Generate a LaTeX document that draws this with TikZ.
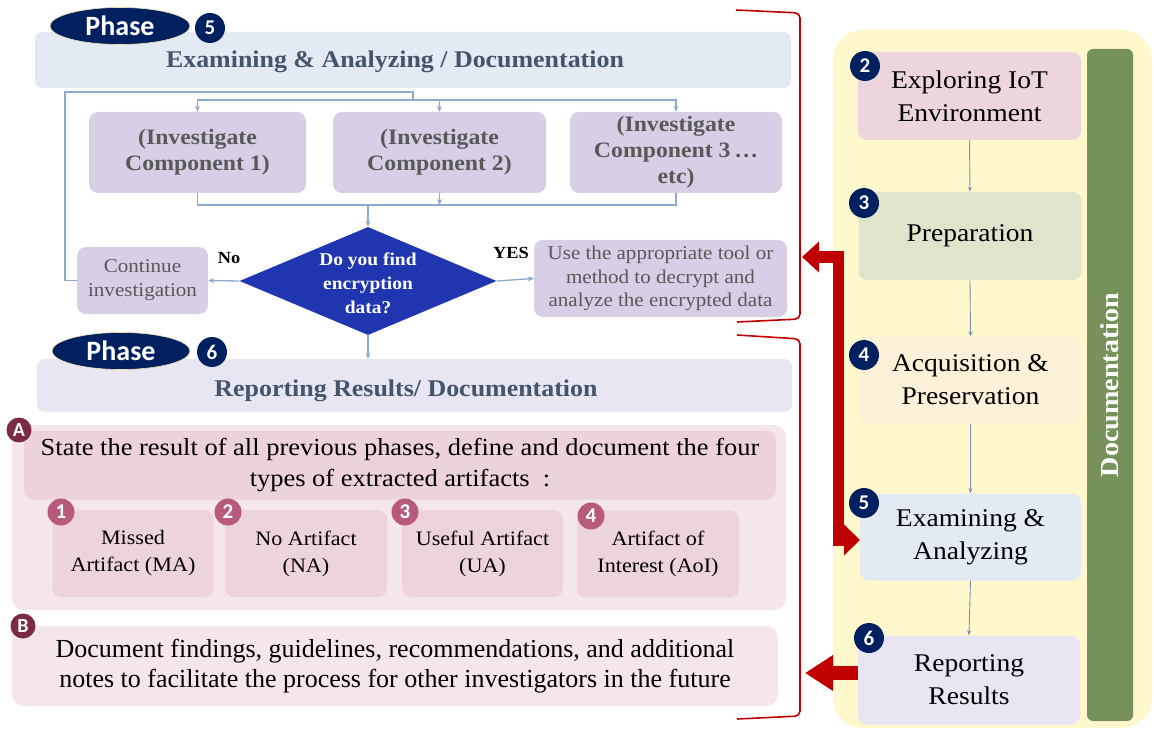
\documentclass[tikz,border=0pt]{standalone}
\usepackage{fontspec}
\setmainfont{Liberation Serif}[FakeStretch=1.08]
\newfontfamily\plainserif{Liberation Serif}
\newfontfamily\calib{Carlito}
\usetikzlibrary{shapes.geometric,arrows.meta}
\definecolor{navy}{HTML}{002060}
\definecolor{hdrA}{HTML}{E4EAF3}
\definecolor{hdrB}{HTML}{E8E6F2}
\definecolor{slate}{HTML}{44546A}
\definecolor{lav}{HTML}{D8CEE5}
\definecolor{greytxt}{HTML}{595959}
\definecolor{conn}{HTML}{8EA9CF}
\definecolor{decblue}{HTML}{1F36B0}
\definecolor{redc}{HTML}{C00000}
\definecolor{yel}{HTML}{FFF8CC}
\definecolor{grn}{HTML}{76925A}
\definecolor{pinkout}{HTML}{F5E6EA}
\definecolor{pinkin}{HTML}{ECD2D9}
\definecolor{pinkbox}{HTML}{EDD3DA}
\definecolor{maroon}{HTML}{7C2B47}
\definecolor{rose}{HTML}{B85A7C}
\definecolor{rbA}{HTML}{EDD5DE}
\definecolor{rbB}{HTML}{DFE4CB}
\definecolor{rbC}{HTML}{FAF1D8}
\definecolor{rbD}{HTML}{E4EAF3}
\definecolor{rbE}{HTML}{E8E6F2}
\newcommand{\fsz}[2]{\fontsize{#1}{#2}\selectfont}
\begin{document}
\begin{tikzpicture}[x=1pt,y=-1pt,
  box/.style={rounded corners=9pt, inner sep=0pt, align=center},
  hdr/.style={box, rounded corners=8pt},
  comp/.style={box, fill=lav, text=greytxt, font=\bfseries\fsz{22}{26}},
  pill/.style={ellipse, fill=navy, draw=yellow!40!brown!40, line width=0.6pt, text=white, font=\calib\bfseries\fsz{28}{30}, inner sep=0pt},
  numc/.style={circle, fill=navy, text=white, font=\calib\bfseries\fsz{21}{22}, minimum size=30pt, inner sep=0pt},
  letc/.style={circle, fill=maroon, text=white, font=\calib\bfseries\fsz{20}{22}, minimum size=25pt, inner sep=0pt},
  rosec/.style={circle, fill=rose, text=white, font=\calib\bfseries\fsz{21}{22}, minimum size=27pt, inner sep=0pt},
  art/.style={box, fill=pinkbox, font=\fsz{20.5}{27}, minimum width=161pt, minimum height=87pt},
  rbox/.style={box, font=\fsz{25.5}{33}, minimum width=223pt, minimum height=88pt},
  cline/.style={draw=conn, line width=1.3pt},
  carrow/.style={cline, -{Stealth[length=6pt,width=5pt]}},
  rarrow/.style={draw=conn!85!black, line width=0.9pt, -{Stealth[length=5pt,width=4pt]}},
  brk/.style={draw=redc, line width=1.6pt, rounded corners=5pt},
  big/.style={draw=redc, line width=11pt}
]
\useasboundingbox (0,0) rectangle (1154,730);

% ---------- right panel ----------
\node[box, fill=yel, rounded corners=30pt, minimum width=319pt, minimum height=698pt] (panel) at (992.5,379) {};
\node[box, fill=grn, rounded corners=6pt, minimum width=46pt, minimum height=672pt] (docbar) at (1110,385) {};
\node[text=white, font=\bfseries\fsz{26}{28}, rotate=90] (doctxt) at (1110,385) {Documentation};

\node[rbox, fill=rbA] (r2) at (969.5,96) {Exploring IoT\\Environment};
\node[rbox, fill=rbB] (r3) at (970,236) {Preparation};
\node[rbox, fill=rbC, minimum width=221pt, minimum height=87pt] (r4) at (970.5,380) {Acquisition \&\\Preservation};
\node[rbox, fill=rbD, minimum width=221pt, minimum height=87pt] (r5) at (970.5,537) {Examining \&\\Analyzing};
\node[rbox, fill=rbE, minimum width=222pt, minimum height=89pt] (r6) at (969,680) {Reporting\\Results};
\node[numc] (n2) at (865,66) {2};
\node[numc] (n3) at (864,203) {3};
\node[numc] (n4) at (864,355) {4};
\node[numc] (n5) at (864,503) {5};
\node[numc] (n6) at (869,638) {6};
\draw[rarrow] (r2.south) -- (r3.north);
\draw[rarrow] (r3.south) -- (r4.north);
\draw[rarrow] (r4.south) -- (r5.north);
\draw[rarrow] (r5.south) -- (r6.north);

% ---------- phase 5 ----------
\node[hdr, fill=hdrA, minimum width=756pt, minimum height=56pt] (h5) at (413,60) {};
\node[text=slate, font=\bfseries\fsz{24}{26}] (t5) at (395,62) {Examining \& Analyzing / Documentation};
\node[pill, minimum width=140pt, minimum height=37pt] (p5) at (120,26) {Phase};
\node[numc] (pn5) at (210,28) {5};

\node[comp, minimum width=217pt, minimum height=81pt] (c1) at (197.5,152.5) {(Investigate\\Component 1)};
\node[comp, minimum width=213pt, minimum height=81pt] (c2) at (439.5,152.5) {(Investigate\\Component 2)};
\node[comp, minimum width=212pt, minimum height=81pt] (c3) at (676,152.5) {(Investigate\\Component 3\,\ldots\\etc)};

\node[diamond, fill=decblue, minimum width=257pt, minimum height=108pt, inner sep=0pt] (dec) at (368,281) {};
\node[text=white, align=center, font=\bfseries\fsz{18}{24}] (dectxt) at (368,283) {Do you find\\encryption\\data?};
\node[box, fill=lav, text=greytxt, font=\fsz{19.5}{24}, minimum width=131pt, minimum height=67pt] (cont) at (142.5,280.5) {Continue\\investigation};
\node[box, fill=lav, text=greytxt, font=\fsz{19.5}{23.5}, minimum width=253pt, minimum height=77pt] (use) at (660.5,278.5) {Use the appropriate tool or\\method to decrypt and\\analyze the encrypted data};
\node[font=\bfseries\fsz{17}{18}] (nolab) at (229,258) {No};
\node[font=\bfseries\fsz{17}{18}] (yeslab) at (511,253) {YES};

% connectors phase 5
\coordinate (jt) at (413,100);
\coordinate (lp) at (65,92);
\coordinate (jb) at (368,205);
\draw[cline] (cont.west) -| (lp) -| (jt);
\draw[carrow] (jt) -| (c1.north);
\draw[carrow] (jt) -| (c3.north);
\draw[carrow] (jt -| c2.north) -- (c2.north);
\draw[cline] (c1.south) |- (jb) -| (c3.south);
\draw[carrow] (c2.south) -- (c2.south |- jb);
\draw[carrow] (jb) -- (dec.north);
\draw[carrow] (dec.west) -- (cont.east);
\draw[carrow] (dec.east) -- (use.west);

% ---------- phase 6 ----------
\node[hdr, fill=hdrB, minimum width=755pt, minimum height=53pt] (h6) at (414.5,385.5) {};
\node[text=slate, font=\bfseries\fsz{24}{26}] (t6) at (406,391) {Reporting Results/ Documentation};
\node[pill, minimum width=138pt, minimum height=37pt] (p6) at (121,351) {Phase};
\node[numc] (pn6) at (212,352) {6};
\draw[carrow] (dec.south) -- (h6.north -| dec.south);

\node[box, fill=pinkout, rounded corners=12pt, minimum width=774pt, minimum height=185pt] (secA) at (399,517.5) {};
\node[box, fill=pinkin, minimum width=752pt, minimum height=69pt, font=\fsz{24.5}{31}] (stA) at (400,465) {State the result of all previous phases, define and document the four\\types of extracted artifacts\ \ :};
\node[letc] (la) at (19,430) {A};

\node[art] (a1) at (133,553.5) {Missed\\Artifact (MA)};
\node[art, minimum width=162pt] (a2) at (306,553.5) {No Artifact\\(NA)};
\node[art] (a3) at (482.5,553.5) {Useful Artifact\\(UA)};
\node[art, minimum width=162pt] (a4) at (658,554) {Artifact of\\Interest (AoI)};
\node[rosec] (q1) at (61,512) {1};
\node[rosec] (q2) at (228,512) {2};
\node[rosec] (q3) at (405,512) {3};
\node[rosec] (q4) at (591,516) {4};

\node[box, fill=pinkout, rounded corners=12pt, minimum width=766pt, minimum height=80pt, font=\plainserif\fsz{26}{30}] (secB) at (395,666) {Document findings, guidelines, recommendations, and additional\\notes to facilitate the process for other investigators in the future};
\node[letc] (lb) at (23,626) {B};

% ---------- red brackets and arrows ----------
\draw[brk] (736,10) -- (800,13) -- (800,319) -- (737,322);
\draw[brk] (737,335) -- (800,339) -- (800,716) -- (737,719);
\coordinate (ra) at (802,257);
\coordinate (rc) at (838,257);
\coordinate (rd) at (860,540);
\draw[big, {Triangle[length=17pt,width=30pt]}-{Triangle[length=16pt,width=30pt]}] (ra) -- (rc) |- (rd);
\coordinate (rb) at (805,673);
\draw[big, line width=14pt, -{Triangle[length=28pt,width=34pt]}] (r6.west |- rb) -- (rb);
\end{tikzpicture}
\end{document}
